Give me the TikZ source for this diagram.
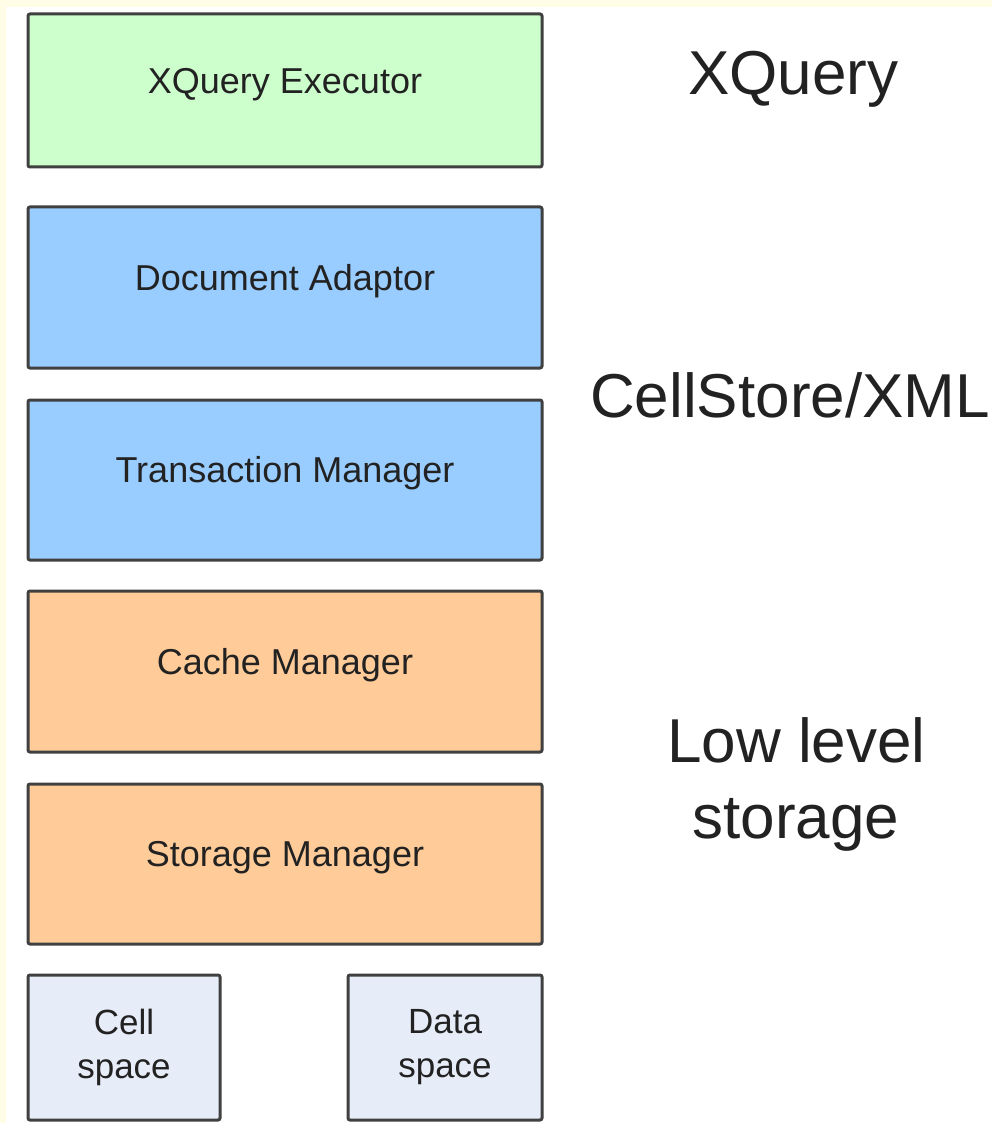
\documentclass[tikz,border=0pt]{standalone}
\usepackage{fontspec}
\setmainfont{Liberation Sans}
\definecolor{cream}{HTML}{FFFDE6}
\definecolor{edge}{HTML}{404040}
\definecolor{xqgreen}{HTML}{CCFFCC}
\definecolor{csblue}{HTML}{99CCFF}
\definecolor{llorange}{HTML}{FFCC99}
\definecolor{spacefill}{HTML}{E6ECF8}
\definecolor{txt}{HTML}{222222}
\tikzset{
  layerbox/.style={draw=edge, line width=3pt, rounded corners=2pt,
    minimum width=514pt, minimum height=153pt, inner sep=0pt,
    text=txt, font=\fontsize{36}{44}\selectfont,
    text height=0.72em, text depth=0.21em},
  spacebox/.style={draw=edge, line width=3pt, rounded corners=2pt, fill=spacefill,
    minimum width=192pt, minimum height=145pt, inner sep=0pt,
    text=txt, font=\fontsize{35}{44}\selectfont, align=center},
  biglabel/.style={text=txt, font=\fontsize{62}{72}\selectfont, inner sep=0pt}
}
\begin{document}
\begin{tikzpicture}[x=1pt,y=-1pt]
\useasboundingbox (0,0) rectangle (992,1123);
\fill[cream] (0,0) rectangle (992,1123);
\fill[white] (6,7) rectangle (992,1123);

\node[layerbox, fill=xqgreen] (xq) at (285,90.5) {XQuery Executor};
\node[layerbox, fill=csblue, minimum height=161pt] (da) at (285,287.5) {Document Adaptor};
\node[layerbox, fill=csblue, minimum height=160pt] (tm) at (285,480) {Transaction Manager};
\node[layerbox, fill=llorange, minimum height=161pt] (cm) at (285,671.5) {Cache Manager};
\node[layerbox, fill=llorange, minimum height=160pt] (sm) at (285,864) {Storage Manager};

\node[spacebox] (cs) at (124,1047.5) {Cell\\space};
\node[spacebox, minimum width=194pt] (ds) at (445,1047.5) {Data\\space};

\node[biglabel, anchor=base west] (lxq) at (688,95) {XQuery};
\node[biglabel, anchor=base west] (lcs) at (590,417) {CellStore/XML};
\node[biglabel, anchor=base] (lll) at (796.5,762) {Low level};
\node[biglabel, anchor=base] (lst) at (796,838) {storage};
\end{tikzpicture}
\end{document}
